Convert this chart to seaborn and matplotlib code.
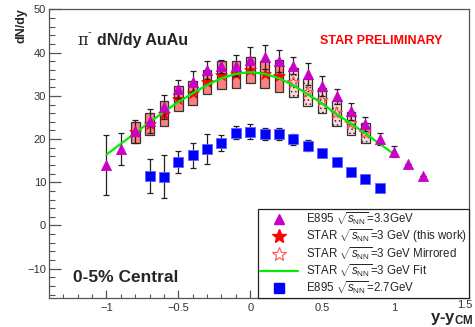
import numpy as np
import pandas as pd
import seaborn as sns
import matplotlib
matplotlib.use("Agg")
import matplotlib.pyplot as plt
import matplotlib.transforms as mtransforms
from matplotlib.lines import Line2D

# ---------------- data ----------------
# E895 sqrt(sNN)=3.3 GeV
e33_y = [-1.0, -0.9, -0.8, -0.7, -0.6, -0.5, -0.4, -0.3, -0.2, -0.1, 0.0, 0.1, 0.2, 0.3, 0.4, 0.5, 0.6, 0.7, 0.8, 0.9, 1.0, 1.1, 1.2]
e33_v = [14.0, 17.6, 21.8, 24.2, 27.4, 31.5, 33.3, 36.0, 36.8, 37.0, 38.4, 39.0, 38.1, 37.0, 35.1, 32.3, 29.9, 26.4, 23.5, 20.1, 17.1, 14.2, 11.5]
e33_err = [7.0, 3.7, 2.7, 2.7, 2.8, 2.1, 2.4, 2.0, 1.5, 2.5, 2.9, 2.7, 2.6, 2.0, 2.6, 2.4, 1.7, 1.9, 1.6, 1.4, 1.2, 0.0, 0.0]

# STAR 3 GeV (this work)
star_y = [-0.8, -0.7, -0.6, -0.5, -0.4, -0.3, -0.2, -0.1, 0.0, 0.1, 0.2]
star_v = [21.6, 23.5, 25.9, 29.3, 30.6, 33.3, 34.8, 35.0, 35.9, 35.0, 34.5]
star_sys = [2.4, 2.5, 2.9, 2.9, 2.8, 2.8, 3.2, 3.1, 3.0, 3.1, 3.7]

# STAR 3 GeV mirrored
mir_y = [0.3, 0.4, 0.5, 0.6, 0.7, 0.8]
mir_v = [33.1, 30.8, 28.9, 26.0, 23.6, 21.4]
mir_sys = [3.3, 3.1, 2.9, 2.9, 2.6, 2.4]

# STAR 3 GeV fit
fit_y = [-1.0, -0.9, -0.8, -0.7, -0.6, -0.5, -0.4, -0.3, -0.2, -0.1, 0.0, 0.1, 0.2, 0.3, 0.4, 0.5, 0.6, 0.7, 0.8, 0.9, 1.0]
fit_v = [16.4, 18.9, 21.4, 23.9, 26.3, 28.6, 30.6, 32.5, 34.1, 35.1, 35.5, 35.1, 34.1, 32.4, 30.4, 28.2, 25.8, 23.6, 21.3, 18.9, 16.5]

# E895 sqrt(sNN)=2.7 GeV
e27_y = [-0.7, -0.6, -0.5, -0.4, -0.3, -0.2, -0.1, 0.0, 0.1, 0.2, 0.3, 0.4, 0.5, 0.6, 0.7, 0.8, 0.9]
e27_v = [11.5, 11.3, 14.7, 16.2, 17.7, 19.1, 21.5, 21.7, 21.2, 21.2, 19.9, 18.5, 16.8, 14.7, 12.4, 10.7, 8.6]
e27_err = [3.9, 5.0, 2.6, 2.9, 3.5, 1.8, 1.5, 1.7, 1.4, 1.4, 1.2, 1.2, 0.0, 0.0, 0.0, 0.0, 0.0]

x_ticks = [-1, -0.5, 0, 0.5, 1, 1.5]
x_ticklabels = ["\u22121", "\u22120.5", "0", "0.5", "1", "1.5"]
y_ticks = [-10, 0, 10, 20, 30, 40, 50]
y_ticklabels = ["\u221210", "0", "10", "20", "30", "40", "50"]

# ---------------- style ----------------
sns.set_theme(style="ticks")
plt.rcParams["font.family"] = ["Liberation Sans", "DejaVu Sans"]
plt.rcParams["mathtext.fontset"] = "custom"
plt.rcParams["mathtext.rm"] = "Liberation Sans"
plt.rcParams["mathtext.it"] = "Liberation Sans:italic"
plt.rcParams["mathtext.bf"] = "Liberation Sans:bold"
plt.rcParams["hatch.color"] = "#ff9090"
plt.rcParams["hatch.linewidth"] = 0.6

fig = plt.figure(figsize=(4.75, 3.27), dpi=100)
ax = fig.add_axes([0.103, 0.090, 0.884, 0.881])

MAG = "#c800c8"
RED = "#ff0000"
BLUE = "#0000ff"
GREEN = "#00ee00"

# systematic boxes
ax.bar(star_y, [2 * s for s in star_sys], bottom=[v - s for v, s in zip(star_v, star_sys)],
       width=0.06, color="#ff8080", edgecolor="#333333", linewidth=0.9, zorder=2)
ax.bar(mir_y, [2 * s for s in mir_sys], bottom=[v - s for v, s in zip(mir_v, mir_sys)],
       width=0.06, color="#ffd6d6", edgecolor="#333333", linewidth=0.9, hatch="....", zorder=2)

# STAR stars
df_star = pd.DataFrame({"y": star_y, "v": star_v})
sns.scatterplot(data=df_star, x="y", y="v", marker="*", s=80, color=RED, edgecolor=RED,
                linewidth=0.5, ax=ax, zorder=3, legend=False)
df_mir = pd.DataFrame({"y": mir_y, "v": mir_v})
ax.scatter(df_mir["y"], df_mir["v"], marker="*", s=80, facecolors="none", edgecolors="#ff5050",
           linewidths=0.8, zorder=3)

# error bars
ax.errorbar(e33_y, e33_v, yerr=e33_err, fmt="none", ecolor="#222222", elinewidth=0.9,
            capsize=2, capthick=0.9, zorder=4)
ax.errorbar(e27_y, e27_v, yerr=e27_err, fmt="none", ecolor="#222222", elinewidth=0.9,
            capsize=2, capthick=0.9, zorder=4)

# fit
df_fit = pd.DataFrame({"y": fit_y, "v": fit_v})
sns.lineplot(data=df_fit, x="y", y="v", color=GREEN, linewidth=1.6, ax=ax, zorder=5, sort=False)

# E895 triangles / squares
df_e33 = pd.DataFrame({"y": e33_y, "v": e33_v})
sns.scatterplot(data=df_e33, x="y", y="v", marker="^", s=55, color=MAG, edgecolor=MAG,
                linewidth=0.5, ax=ax, zorder=6, legend=False)
df_e27 = pd.DataFrame({"y": e27_y, "v": e27_v})
sns.scatterplot(data=df_e27, x="y", y="v", marker="s", s=45, color=BLUE, edgecolor="#6060ff",
                linewidth=0.6, ax=ax, zorder=6, legend=False)

# ---------------- axes ----------------
ax.set_xlim(-1.4, 1.52)
ax.set_ylim(-16.7, 50)
ax.set_xticks(x_ticks)
ax.set_xticklabels(x_ticklabels)
ax.set_yticks(y_ticks)
ax.set_yticklabels(y_ticklabels)
ax.set_xticks(np.arange(-1.3, 1.5, 0.1), minor=True)
ax.set_yticks(np.arange(-16, 50, 2), minor=True)
ax.tick_params(axis="y", which="major", direction="in", length=8.5, width=0.9, color="#555555",
               labelsize=8, labelcolor="#333333", pad=2, right=False)
ax.tick_params(axis="y", which="minor", direction="in", length=4.3, width=0.8, color="#555555", right=False)
ax.tick_params(axis="x", which="major", direction="in", length=5.5, width=0.9, color="#555555",
               labelsize=8, labelcolor="#333333", pad=4, top=False)
ax.tick_params(axis="x", which="minor", direction="in", length=3.2, width=0.8, color="#555555", top=False)
for sp in ax.spines.values():
    sp.set_color("#555555")
    sp.set_linewidth(0.9)
ax.set_xlabel("")
ax.set_ylabel("")

# raise the last x tick label a little (as in the reference)
last_lab = ax.get_xticklabels()[-1]
last_lab.set_transform(last_lab.get_transform() +
                       mtransforms.ScaledTranslation(-1 / 72, 2.2 / 72, fig.dpi_scale_trans))

fig.text(0.045, 0.975, "dN/dy", rotation=90, ha="center", va="top", fontsize=9, fontweight="bold")
fig.text(0.997, 0.0, r"$\mathbf{y}$-$\mathbf{y}_{\mathbf{CM}}$", ha="right", va="bottom",
         fontsize=12, fontweight="bold")

ax.text(0.068, 0.894, "\u03c0", transform=ax.transAxes, fontsize=11.5, family="DejaVu Serif",
        va="center", ha="left")
ax.text(0.093, 0.92, "-", transform=ax.transAxes, fontsize=8, va="center", ha="left")
ax.text(0.115, 0.894, "dN/dy AuAu", transform=ax.transAxes, fontsize=11.5, fontweight="bold",
        va="center", ha="left")
ax.text(0.645, 0.89, "STAR PRELIMINARY", transform=ax.transAxes, fontsize=9, fontweight="bold",
        color=RED, va="center", ha="left")
ax.text(0.057, 0.068, "0-5% Central", transform=ax.transAxes, fontsize=12.5, fontweight="bold",
        va="center", ha="left")

# ---------------- legend ----------------
handles = [
    Line2D([], [], marker="^", color=MAG, linestyle="none", markersize=7),
    Line2D([], [], marker="*", color=RED, linestyle="none", markersize=10),
    Line2D([], [], marker="*", markerfacecolor="white", markeredgecolor="#ff5050", linestyle="none",
           markersize=10, markeredgewidth=0.8),
    Line2D([], [], color=GREEN, linewidth=1.6),
    Line2D([], [], marker="s", color=BLUE, linestyle="none", markersize=6.5),
]
labels = [
    r"E895 $\sqrt{s_{\rm NN}}$=3.3GeV",
    r"STAR $\sqrt{s_{\rm NN}}$=3 GeV (this work)",
    r"STAR $\sqrt{s_{\rm NN}}$=3 GeV Mirrored",
    r"STAR $\sqrt{s_{\rm NN}}$=3 GeV Fit",
    r"E895 $\sqrt{s_{\rm NN}}$=2.7GeV",
]
leg = ax.legend(handles, labels, loc="lower right", bbox_to_anchor=(1.0, 0.0), borderaxespad=0,
                fontsize=8.3, frameon=True, fancybox=False, edgecolor="#222222", framealpha=1,
                handlelength=3.3, handletextpad=0.7, labelspacing=0.0, borderpad=0.15)
leg.get_frame().set_linewidth(0.9)
leg.set_zorder(10)

fig.savefig("out.png", dpi=100)
